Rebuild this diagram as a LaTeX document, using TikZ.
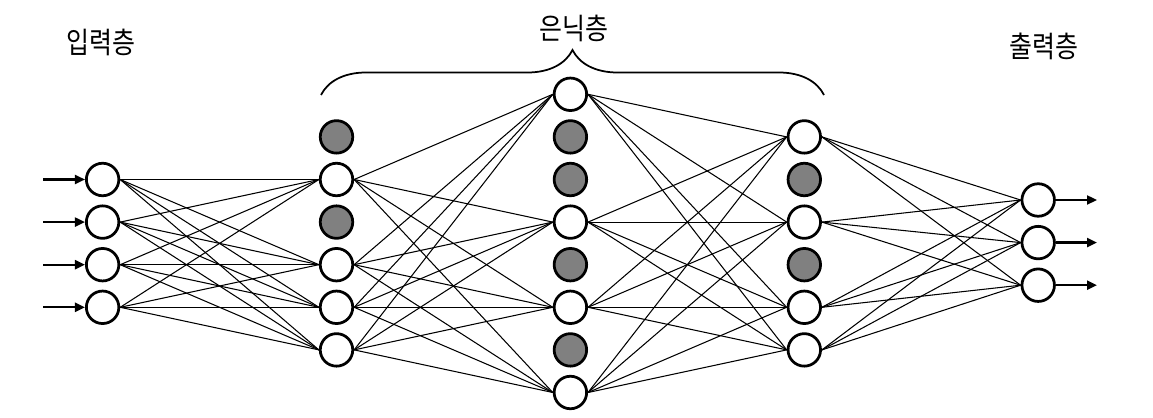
\documentclass[tikz,border=0pt]{standalone}
\usepackage{fontspec}
\newfontfamily\kr{Noto Sans CJK KR}
\usetikzlibrary{arrows.meta,decorations.pathreplacing}
\tikzset{
  unit/.style={circle,draw,line width=0.055cm,minimum size=0.65cm,inner sep=0pt,fill=white},
  dropped/.style={unit,fill=gray},
  link/.style={line width=0.6pt},
  flow/.style={line width=0.045cm,-{Triangle[length=0.2cm,width=0.18cm]}},
  title/.style={font=\kr\fontsize{14.2}{16}\selectfont}
}
\newcommand\tall[1]{\scalebox{1}[1.18]{#1}}
\begin{document}
\begin{tikzpicture}[x=0.02cm,y=-0.02cm]
	\useasboundingbox (0,0) rectangle (1153,418);
	% layers
	\foreach \k in {2,...,5}
		\node[unit] (i\k) at (102.6,{94.3+42.6*\k}) {};
	\foreach \k/\st in {1/dropped,2/unit,3/dropped,4/unit,5/unit,6/unit}
		\node[\st] (a\k) at (336.5,{94.3+42.6*\k}) {};
	\foreach \k/\st in {0/unit,1/dropped,2/dropped,3/unit,4/dropped,5/unit,6/dropped,7/unit}
		\node[\st] (b\k) at (570.4,{94.3+42.6*\k}) {};
	\foreach \k/\st in {1/unit,2/dropped,3/unit,4/dropped,5/unit,6/unit}
		\node[\st] (c\k) at (804.3,{94.3+42.6*\k}) {};
	\foreach \k in {1,2,3}
		\node[unit] (o\k) at (1038.2,{200+42.6*(\k-1)}) {};
	% weights
	\foreach \s in {2,...,5}
		\foreach \t in {2,4,5,6}
			\draw[link] (i\s.east) -- (a\t.west);
	\foreach \s in {2,4,5,6}
		\foreach \t in {0,3,5,7}
			\draw[link] (a\s.east) -- (b\t.west);
	\foreach \s in {0,3,5,7}
		\foreach \t in {1,3,5,6}
			\draw[link] (b\s.east) -- (c\t.west);
	\foreach \s in {1,3,5,6}
		\foreach \t in {1,2,3}
			\draw[link] (c\s.east) -- (o\t.west);
	% inputs and outputs
	\foreach \k in {2,...,5} {
		\coordinate (in\k) at (43,{94.3+42.6*\k});
		\draw[flow] (in\k) -- (i\k.west);
	}
	\foreach \k in {1,2,3} {
		\coordinate (out\k) at (1097,{200+42.6*(\k-1)});
		\draw[flow] (o\k.east) -- (out\k);
	}
	% labels
	\node[title] (inlabel) at (101,42) {\tall{입력층}};
	\node[title] (hidlabel) at (574,28) {\tall{은닉층}};
	\node[title] (outlabel) at (1044,46) {\tall{출력층}};
	\coordinate (braceL) at (321,95);
	\coordinate (braceR) at (824,95);
	\draw[line width=0.035cm,decorate,decoration={brace,amplitude=0.9cm}] (braceL) -- (braceR);
\end{tikzpicture}
\end{document}
